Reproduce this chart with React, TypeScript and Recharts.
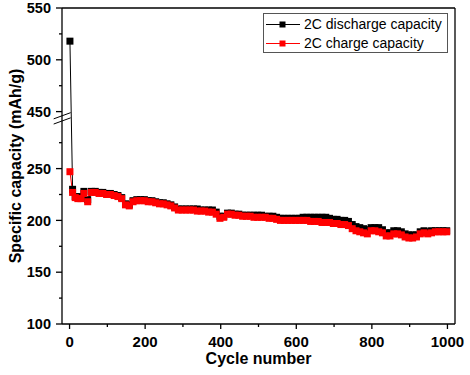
import React from 'react';
import { LineChart, Line, XAxis, YAxis, ReferenceLine, Legend } from 'recharts';

const cycles = [
  1, 8, 15, 22, 30, 38, 48,
  58, 68, 78, 88, 98, 108, 118, 128, 138, 148, 158, 168, 178, 188, 198,
  208, 218, 228, 238, 248, 258, 268, 278, 288, 298, 308, 318, 328, 338, 348,
  358, 368, 378, 388, 398, 408, 418, 428, 438, 448, 458, 468, 478, 488, 498,
  508, 518, 528, 538, 548, 558, 568, 578, 588, 598, 608, 618, 628, 638, 648,
  658, 668, 678, 688, 698, 708, 718, 728, 738, 748, 758, 768, 778, 788, 798,
  808, 818, 828, 838, 848, 858, 868, 878, 888, 898, 908, 918, 928, 938, 948,
  958, 968, 978, 988, 998,
];

const dischargeCapacity = [
  518, 230, 223, 222, 223, 228, 220,
  228, 228, 227, 227, 226, 226, 225, 224, 222, 216, 215, 219, 220, 220, 220,
  219, 219, 218, 217, 217, 216, 215, 213, 211, 211, 211, 211, 211, 211, 210,
  210, 210, 210, 208, 204, 204, 207, 207, 206, 206, 205, 205, 205, 205, 205,
  205, 204, 204, 204, 203, 202, 202, 202, 202, 202, 202, 203, 203, 203, 203,
  203, 203, 203, 202, 201, 201, 200, 200, 199, 196, 194, 193, 192, 191, 193,
  193, 193, 191, 188, 188, 190, 190, 189, 187, 186, 186, 186, 189, 190, 189,
  190, 190, 190, 190, 190,
];

const chargeCapacity = [
  247, 227, 222, 221, 221, 226, 218,
  227, 227, 226, 226, 225, 225, 224, 223, 221, 215, 214, 218, 219, 219, 219,
  218, 218, 217, 216, 216, 215, 214, 212, 210, 210, 210, 210, 210, 209, 209,
  209, 208, 208, 206, 202, 203, 206, 206, 205, 205, 204, 204, 204, 203, 203,
  203, 203, 202, 202, 201, 200, 200, 200, 200, 200, 200, 200, 200, 199, 199,
  199, 198, 198, 198, 197, 197, 196, 196, 195, 192, 190, 189, 188, 187, 190,
  190, 189, 188, 185, 185, 187, 187, 186, 184, 183, 183, 184, 187, 188, 187,
  188, 189, 189, 189, 189,
];

const seriesNames = ['2C discharge capacity', '2C charge capacity'];
const seriesColors = ['#000000', '#ff0000'];

const xMajorTicks = [0, 200, 400, 600, 800, 1000];
const xMinorTicks = [100, 300, 500, 700, 900];
const yMajorTickLabels = [100, 150, 200, 250, 450, 500, 550];
const yMinorTickValues = [125, 175, 225, 275, 475, 525];

// axis break: values above the break are shifted down onto a continuous axis
const BREAK_LOW = 300;
const BREAK_SHIFT = 145;
const toAxis = (v: number) => (v > BREAK_LOW ? v - BREAK_SHIFT : v);
const fromAxis = (d: number) => (d > BREAK_LOW ? d + BREAK_SHIFT : d);

const data = cycles.map((c, i) => ({
  cycle: c,
  discharge: dischargeCapacity[i],
  charge: chargeCapacity[i],
}));

const FONT = 'Arial, "Liberation Sans", Helvetica, sans-serif';

const yMajorAxis = yMajorTickLabels.map(toAxis);
const yAllTicks = [...yMajorAxis, ...yMinorTickValues.map(toAxis)].sort((a, b) => a - b);
const xAllTicks = [...xMajorTicks, ...xMinorTicks].sort((a, b) => a - b);

const XTick = (props: any) => {
  const { x, y, payload } = props;
  const major = xMajorTicks.includes(payload.value);
  return (
    <g>
      <line x1={x} x2={x} y1={y} y2={y + (major ? 5 : 3)} stroke="#000" strokeWidth={1.3} />
      {major && (
        <text x={x} y={y + 23} textAnchor="middle" fontFamily={FONT} fontWeight="bold" fontSize={15} fill="#000">
          {payload.value}
        </text>
      )}
    </g>
  );
};

const YTick = (props: any) => {
  const { x, y, payload } = props;
  const major = yMajorAxis.includes(payload.value);
  return (
    <g>
      <line x1={x} x2={x - (major ? 6 : 3)} y1={y} y2={y} stroke="#000" strokeWidth={1.3} />
      {major && (
        <text x={x - 11} y={y} dy="0.36em" textAnchor="end" fontFamily={FONT} fontWeight="bold" fontSize={14.5} fill="#000">
          {fromAxis(payload.value)}
        </text>
      )}
    </g>
  );
};

const squareDot = (color: string) => (props: any) => {
  const { cx, cy, index } = props;
  if (cx == null || cy == null) return <g key={`d-${index}`} />;
  return <rect key={`d-${index}`} x={cx - 3.5} y={cy - 3.5} width={7} height={7} fill={color} />;
};

const renderLegend = () => (
  <div
    style={{
      width: 185,
      height: 40,
      boxSizing: 'border-box',
      border: '1px solid #555',
      background: '#fff',
      fontFamily: FONT,
      fontSize: 14,
      color: '#000',
      paddingTop: 1,
    }}
  >
    {seriesNames.map((name, i) => (
      <div key={name} style={{ display: 'flex', alignItems: 'center', height: 19 }}>
        <svg width={38} height={19} style={{ display: 'block' }}>
          <line x1={2} x2={36} y1={9.5} y2={9.5} stroke={seriesColors[i]} strokeWidth={1} />
          <rect x={15.5} y={6.5} width={6} height={6} fill={seriesColors[i]} />
        </svg>
        <span style={{ marginLeft: 2, lineHeight: '19px' }}>{name}</span>
      </div>
    ))}
  </div>
);

export default function App() {
  return (
    <div style={{ position: 'absolute', left: 0, top: 0, width: 470, height: 375, background: '#fff' }}>
      <LineChart width={470} height={375} data={data} margin={{ top: 8, right: 15, bottom: 0, left: 12 }}>
        <XAxis
          dataKey="cycle"
          type="number"
          domain={[-20, 1020]}
          ticks={xAllTicks}
          interval={0}
          tickSize={0}
          tickMargin={0}
          tick={<XTick />}
          axisLine={{ stroke: '#000', strokeWidth: 1.3 }}
          height={51}
          label={{
            value: 'Cycle number',
            position: 'insideBottom',
            offset: 11,
            style: { fontFamily: FONT, fontWeight: 'bold', fontSize: 16, fill: '#000' },
          }}
        />
        <YAxis
          type="number"
          domain={[100, 405]}
          allowDataOverflow
          ticks={yAllTicks}
          interval={0}
          tickSize={0}
          tickMargin={0}
          tick={<YTick />}
          width={50}
          axisLine={{ stroke: '#000', strokeWidth: 1.3 }}
          label={{
            value: 'Specific capacity (mAh/g)',
            angle: -90,
            position: 'insideLeft',
            offset: 3,
            style: { textAnchor: 'middle', fontFamily: FONT, fontWeight: 'bold', fontSize: 16, fill: '#000' },
          }}
        />
        <ReferenceLine y={405} stroke="#000" strokeWidth={1.3} />
        <ReferenceLine x={1020} stroke="#000" strokeWidth={1.3} />
        <Line
          name={seriesNames[0]}
          dataKey={(d: any) => toAxis(d.discharge)}
          stroke={seriesColors[0]}
          strokeWidth={1}
          dot={squareDot(seriesColors[0])}
          activeDot={false}
          isAnimationActive={false}
        />
        <Line
          name={seriesNames[1]}
          dataKey={(d: any) => toAxis(d.charge)}
          stroke={seriesColors[1]}
          strokeWidth={1}
          dot={squareDot(seriesColors[1])}
          activeDot={false}
          isAnimationActive={false}
        />
        <ReferenceLine
          segment={[{ x: -20, y: 296 }, { x: -20, y: 301 }]}
          stroke="#fff"
          strokeWidth={4}
          ifOverflow="visible"
        />
        <ReferenceLine
          segment={[{ x: -42, y: 293 }, { x: 3, y: 299 }]}
          stroke="#000"
          strokeWidth={1}
          ifOverflow="visible"
        />
        <ReferenceLine
          segment={[{ x: -42, y: 298 }, { x: 3, y: 304 }]}
          stroke="#000"
          strokeWidth={1}
          ifOverflow="visible"
        />
        <Legend
          layout="vertical"
          align="center"
          verticalAlign="middle"
          content={renderLegend}
          wrapperStyle={{ left: 263, top: 13, width: 185, height: 40 }}
        />
      </LineChart>
    </div>
  );
}
